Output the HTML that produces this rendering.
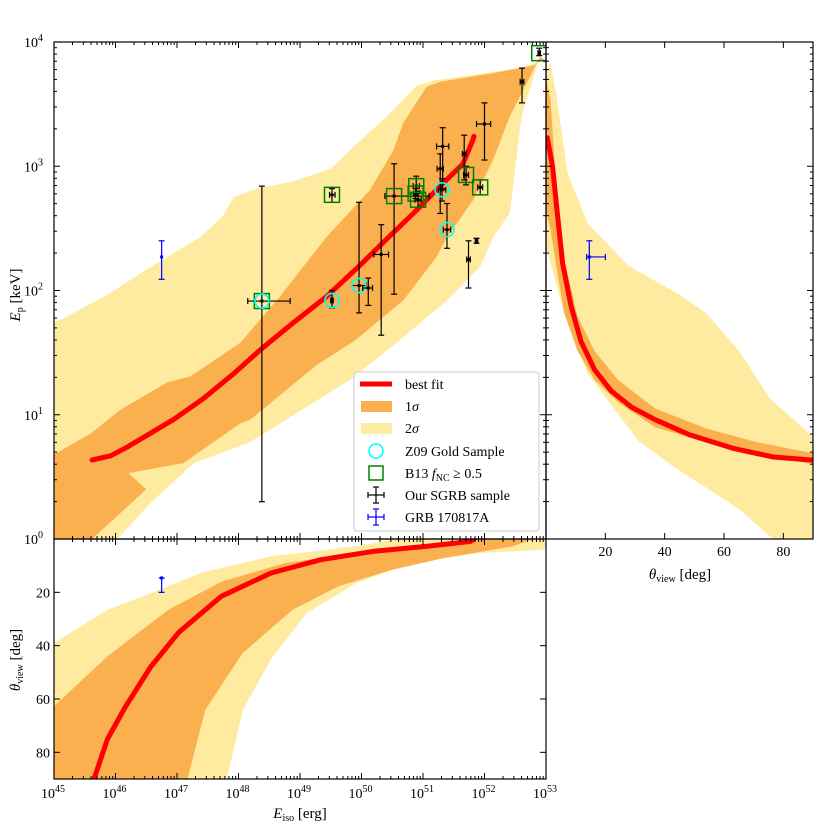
<!DOCTYPE html>
<html><head><meta charset="utf-8"><style>
html,body{margin:0;padding:0;background:#fff;}
svg{display:block;font-family:"Liberation Serif",serif;}
</style></head><body>
<svg id="c" width="830" height="830" viewBox="0 0 830 830" xmlns="http://www.w3.org/2000/svg">
<defs>
<clipPath id="cm"><rect x="54" y="42" width="492" height="497"/></clipPath>
<clipPath id="cr"><rect x="546" y="42" width="267" height="497"/></clipPath>
<clipPath id="cb"><rect x="54" y="539" width="492" height="240"/></clipPath>
</defs>
<g id="gm" clip-path="url(#cm)"></g>
<g id="gr" clip-path="url(#cr)"></g>
<g id="gb" clip-path="url(#cb)"></g>
<g id="ax"></g>
<g id="leg">
<rect x="354" y="372" width="185" height="159" rx="3" fill="#fff" fill-opacity="0.85" stroke="#ccc" stroke-width="1"/>
<line x1="360" y1="384" x2="392" y2="384" stroke="#f00" stroke-width="5"/>
<text x="405" y="389" font-size="14">best fit</text>
<rect x="361" y="401" width="31" height="11" fill="#fbb04f"/>
<text x="405" y="411" font-size="14">1<tspan font-style="italic">σ</tspan></text>
<rect x="361" y="423" width="31" height="11" fill="#feeba0"/>
<text x="405" y="433" font-size="14">2<tspan font-style="italic">σ</tspan></text>
<circle cx="376" cy="451" r="7" fill="none" stroke="#0ff" stroke-width="1.5"/>
<text x="405" y="456" font-size="14">Z09 Gold Sample</text>
<rect x="369" y="466" width="14" height="14" fill="none" stroke="#008000" stroke-width="1.5"/>
<text x="405" y="478" font-size="14">B13 <tspan font-style="italic">f</tspan><tspan font-size="10" dy="3">NC</tspan><tspan dy="-3"> ≥ 0.5</tspan></text>
<g stroke="#000" stroke-width="1.2"><line x1="368" y1="495" x2="384" y2="495"/><line x1="376" y1="487" x2="376" y2="503"/><line x1="368" y1="492" x2="368" y2="498"/><line x1="384" y1="492" x2="384" y2="498"/><line x1="373" y1="487" x2="379" y2="487"/><line x1="373" y1="503" x2="379" y2="503"/></g>
<text x="405" y="500" font-size="14">Our SGRB sample</text>
<g stroke="#00f" stroke-width="1.2"><line x1="368" y1="517" x2="384" y2="517"/><line x1="376" y1="509" x2="376" y2="525"/><line x1="368" y1="514" x2="368" y2="520"/><line x1="384" y1="514" x2="384" y2="520"/><line x1="373" y1="509" x2="379" y2="509"/><line x1="373" y1="525" x2="379" y2="525"/></g>
<text x="405" y="522" font-size="14">GRB 170817A</text>
</g>
<text x="20" y="295" font-size="15" transform="rotate(-90 20 295)" text-anchor="middle"><tspan font-style="italic">E</tspan><tspan font-size="10" dy="3">p</tspan><tspan dy="-3"> [keV]</tspan></text>
<text x="20" y="660" font-size="15" transform="rotate(-90 20 660)" text-anchor="middle"><tspan font-style="italic">θ</tspan><tspan font-size="10" dy="3">view</tspan><tspan dy="-3"> [deg]</tspan></text>
<text x="300" y="818" font-size="15" text-anchor="middle"><tspan font-style="italic">E</tspan><tspan font-size="10" dy="3">iso</tspan><tspan dy="-3"> [erg]</tspan></text>
<text x="680" y="579" font-size="15" text-anchor="middle"><tspan font-style="italic">θ</tspan><tspan font-size="10" dy="3">view</tspan><tspan dy="-3"> [deg]</tspan></text>
</svg>
<script>
// ---- data (log10 E_iso, log10 E_p, theta deg) ----
const fitLogE = [45.62,45.92,46.19,46.94,47.43,47.92,48.35,48.89,49.43,49.97,50.4,50.84,51.32,51.65,51.81,51.83];
const fitLogEp = [0.636,0.67,0.74,0.96,1.13,1.33,1.52,1.74,1.95,2.2,2.41,2.62,2.86,3.02,3.21,3.24];
const s1UpLogE = [45,45.6,46.08,46.84,47.22,48.03,48.67,49.43,50.14,50.52,50.68,51.06,51.28,52.14,52.79,52.97];
const s1UpLogEp = [0.68,0.85,1.04,1.26,1.31,1.58,1.95,2.43,2.81,3.13,3.35,3.64,3.68,3.75,3.81,3.86];
const s1LoLogE = [52.97,52.9,52.69,52.41,52.14,51.82,51.39,51.22,50.68,49.9,49.27,48.19,48.03,47.1,46.21,46.5,45.62,45];
const s1LoLogEp = [3.86,3.88,3.67,3.4,3.05,2.73,2.43,2.27,1.92,1.6,1.4,0.96,0.93,0.61,0.53,0.4,0,0];
const s2UpLogE = [45,45.32,45.92,46.41,46.94,47.38,47.75,47.92,48.3,48.9,49.5,49.92,50.3,50.63,50.9,51.17,52.57,52.97];
const s2UpLogEp = [1.74,1.82,1.98,2.14,2.3,2.43,2.6,2.75,2.82,2.88,2.98,3.18,3.35,3.51,3.65,3.69,3.79,3.86];
const s2LoLogE = [52.97,52.9,52.63,52.58,52.47,52.41,52.14,51.93,51.39,50.62,49.81,48.19,47.27,46.57,46.03,45];
const s2LoLogEp = [3.86,3.88,3.45,3.32,2.86,2.62,2.43,2.19,1.92,1.6,1.28,0.78,0.61,0.29,0,0];
// right panel: theta vs log Ep
const rFitTheta = [0.45,2.2,3.9,5.6,8.4,11.8,16.4,22,28.9,36.8,48.2,63,76.6,90];
const rFitLogEp = [3.23,3.0,2.6,2.22,1.88,1.59,1.36,1.19,1.06,0.96,0.84,0.73,0.66,0.635];
const r1UpTheta = [0,1.6,3.3,6.1,10.7,16.4,24.3,36.8,53.9,71,90];
const r1UpLogEp = [3.72,3.52,2.89,2.25,1.79,1.51,1.28,1.05,0.89,0.78,0.69];
const r1LoTheta = [0,1.6,3.3,6.1,10.7,16.4,24.3,36.8,53.9,71,90];
const r1LoLogEp = [2.66,2.48,2.22,1.82,1.51,1.28,1.1,0.9,0.78,0.69,0.6];
const r2UpTheta = [0,1.4,3.3,7.3,14.1,27.7,44.8,53.9,65.2,75.5,90];
const r2UpLogEp = [3.78,3.83,3.6,2.94,2.54,2.2,1.97,1.82,1.51,1.13,0.82];
const r2LoTheta = [0,1.6,6.1,14.1,31.1,42.5,65.2,76.6,90];
const r2LoLogEp = [2.34,2.22,1.82,1.33,0.79,0.59,0.24,0,0];
// bottom panel: log E vs theta
const bFitLogE = [45.65,45.87,46.16,46.57,47.03,47.72,48.53,49.34,50.2,51.07,51.77,51.83];
const bFitTheta = [90,75,63,48,35,21.5,12.75,7.75,4.6,2.75,0.9,0];
const b1LeftLogE = [45,45,45.87,46.86,47.72,48.76,49.92,50.79,51.5,51.8];
const b1LeftTheta = [90,62.75,44,26.5,16,9,5.25,3.4,1.5,0];
const b1RightLogE = [52.8,52.46,51.36,50.5,49.63,48.88,48.07,47.46,47.17];
const b1RightTheta = [0,2.75,7,11.5,17.75,26.5,42.75,64,90];
const b2LeftLogE = [45,45,45.87,46.45,47.38,48.53,49.92,50.5,50.6];
const b2LeftTheta = [90,39,26.5,21.5,12.75,6.5,2.75,0.25,0];
const b2RightLogE = [53,52.98,51.94,50.79,49.92,49.11,48.53,48.07,47.81];
const b2RightTheta = [0,4,5.25,9,16.5,27.75,45,64,90];
// SGRB points
const ptLogE = [48.38,49.52,49.52,49.96,50.11,50.32,50.53,50.89,50.88,50.92,51.32,51.28,51.31,51.39,51.67,51.7,51.93,52.0,52.61,52.89,51.74,51.87];
const ptLogEp = [1.915,2.77,1.92,2.04,2.02,2.29,2.76,2.84,2.78,2.73,3.16,2.98,2.81,2.49,3.10,2.93,2.83,3.34,3.68,3.91,2.25,2.40];
const ptXlo = [48.15,49.48,49.5,49.85,50.02,50.2,50.38,50.84,50.85,50.87,51.22,51.23,51.25,51.33,51.64,51.66,51.89,51.87,52.58,52.87,51.71,51.85];
const ptXhi = [48.84,49.57,49.54,50.08,50.18,50.44,51.1,50.94,50.91,50.97,51.42,51.33,51.37,51.45,51.7,51.74,51.97,52.1,52.64,52.91,51.77,51.89];
const ptYlo = [0.30,2.71,1.86,1.82,1.88,1.64,1.97,2.76,2.74,2.67,2.82,2.62,2.72,2.34,2.89,2.85,2.77,3.05,3.51,3.89,2.02,2.38];
const ptYhi = [2.84,2.82,2.0,2.71,2.10,2.53,3.02,2.92,2.82,2.80,3.31,3.10,2.9,2.70,3.25,3.0,2.89,3.51,3.79,3.95,2.40,2.42];
const ptType = ["sc","s","c","c","","","s","s","s","s","","","c","c","","s","s","","","s","",""];
// GRB 170817A
const grbLogE = [46.75], grbLogEp = [2.27], grbYlo = [2.09], grbYhi = [2.40];
const grbTheta = [14.6], grbThLo = [13.7], grbThHi = [20];

const NS="http://www.w3.org/2000/svg";
const X=l=>54+(l-45)*61.5, Y=l=>539-l*124.25, TX=t=>546+t*267/90, TB=t=>539+t*240/90;
function mk(tag,attrs,parent){const e=document.createElementNS(NS,tag);for(const k in attrs)e.setAttribute(k,attrs[k]);parent.appendChild(e);return e;}
function poly(xs,ys,fx,fy){return xs.map((v,i)=>fx(v).toFixed(1)+","+fy(ys[i]).toFixed(1)).join(" ");}
const gm=document.getElementById('gm'),gr=document.getElementById('gr'),gb=document.getElementById('gb'),ax=document.getElementById('ax');
const YEL="#feeba0",ORA="#fbb04f";
let p=mk('polygon',{points:poly(s2UpLogE.concat(s2LoLogE),s2UpLogEp.concat(s2LoLogEp),X,Y),fill:YEL},gm);


p=mk('polygon',{points:poly(s1UpLogE.concat(s1LoLogE),s1UpLogEp.concat(s1LoLogEp),X,Y),fill:ORA},gm);


p=mk('polyline',{points:poly(fitLogE,fitLogEp,X,Y),fill:"none",stroke:"#f00","stroke-width":5,"stroke-linejoin":"round","stroke-linecap":"round"},gm);


p=mk('polygon',{points:poly(r2UpTheta.concat(r2LoTheta.slice().reverse()),r2UpLogEp.concat(r2LoLogEp.slice().reverse()),TX,Y),fill:YEL},gr);


p=mk('polygon',{points:poly(r1UpTheta.concat(r1LoTheta.slice().reverse()),r1UpLogEp.concat(r1LoLogEp.slice().reverse()),TX,Y),fill:ORA},gr);


p=mk('polyline',{points:poly(rFitTheta,rFitLogEp,TX,Y),fill:"none",stroke:"#f00","stroke-width":5,"stroke-linejoin":"round","stroke-linecap":"round"},gr);


p=mk('polygon',{points:poly(b2LeftLogE.concat(b2RightLogE),b2LeftTheta.concat(b2RightTheta),X,TB),fill:YEL},gb);


p=mk('polygon',{points:poly(b1LeftLogE.concat(b1RightLogE),b1LeftTheta.concat(b1RightTheta),X,TB),fill:ORA},gb);


p=mk('polyline',{points:poly(bFitLogE,bFitTheta,X,TB),fill:"none",stroke:"#f00","stroke-width":5,"stroke-linejoin":"round","stroke-linecap":"round"},gb);


function ebar(parent,cx,cy,x1,x2,y1,y2,col){
  const g=mk('g',{stroke:col,"stroke-width":1.2,fill:"none"},parent);
  if(x2-x1>1){mk('line',{x1:x1,y1:cy,x2:x2,y2:cy},g);mk('line',{x1:x1,y1:cy-3,x2:x1,y2:cy+3},g);mk('line',{x1:x2,y1:cy-3,x2:x2,y2:cy+3},g);}
  mk('line',{x1:cx,y1:y1,x2:cx,y2:y2},g);mk('line',{x1:cx-3,y1:y1,x2:cx+3,y2:y1},g);mk('line',{x1:cx-3,y1:y2,x2:cx+3,y2:y2},g);
  mk('rect',{x:cx-1.5,y:cy-1.5,width:3,height:3,fill:col,stroke:"none"},g);
  return g;
}
const gp=mk('g',{},gm);
for(let i=0;i<ptLogE.length;i++){
  const cx=X(ptLogE[i]),cy=Y(ptLogEp[i]);
  const g=ebar(gp,cx,cy,X(ptXlo[i]),X(ptXhi[i]),Y(ptYhi[i]),Y(ptYlo[i]),"#000");
  
  
  const t=ptType[i];
  if(t.indexOf('s')>=0){const s=mk('rect',{x:cx-7.5,y:cy-7.5,width:15,height:15,fill:"none",stroke:"#008000","stroke-width":1.5},gp);
    
    }
  if(t.indexOf('c')>=0){const c=mk('circle',{cx:cx,cy:cy,r:7,fill:"none",stroke:"#0ff","stroke-width":1.6},gp);
    
    }
}
let bg=ebar(gm,X(grbLogE[0]),Y(grbLogEp[0]),0,0,Y(grbYhi[0]),Y(grbYlo[0]),"#00f");


bg=ebar(gr,TX(grbTheta[0]),Y(grbLogEp[0]),TX(grbThLo[0]),TX(grbThHi[0]),Y(grbYhi[0]),Y(grbYlo[0]),"#00f");


bg=ebar(gb,X(grbLogE[0]),TB(grbTheta[0]),0,0,TB(grbTheta[0]),TB(grbThHi[0]),"#00f");


[[54,42,492,497],[546,42,267,497],[54,539,492,240]].forEach(r=>{const f=mk('rect',{x:r[0],y:r[1],width:r[2],height:r[3],fill:"none",stroke:"#000","stroke-width":1.2},ax);
  
  });
function tl(x1,y1,x2,y2){mk('line',{x1:x1,y1:y1,x2:x2,y2:y2,stroke:"#000","stroke-width":1},ax);}
for(let d=45;d<=53;d++){for(let k=1;k<=9;k++){const l=d+Math.log10(k);if(l>53.001)break;const x=X(l),L=k==1?6:3;
  tl(x,42,x,42+L);tl(x,539,x,539-L);tl(x,539,x,539+L);tl(x,779,x,779-L);}}
for(let d=0;d<=4;d++){for(let k=1;k<=9;k++){const l=d+Math.log10(k);if(l>4.001)break;const y=Y(l),L=k==1?6:3;
  tl(54,y,54+L,y);tl(546,y,546-L,y);tl(546,y,546+L,y);tl(813,y,813-L,y);}}
[20,40,60,80].forEach(t=>{const x=TX(t);tl(x,42,x,48);tl(x,539,x,533);const y=TB(t);tl(54,y,60,y);tl(546,y,540,y);
  const a=mk('text',{x:x,y:556,"font-size":14,"text-anchor":"middle"},ax);a.textContent=t;
  
  
  const b=mk('text',{x:50,y:y+5,"font-size":14,"text-anchor":"end"},ax);b.textContent=t;
  
  });
for(let d=0;d<=4;d++){const t=mk('text',{x:24,y:Y(d)+5,"font-size":14},ax);t.innerHTML='10<tspan font-size="10" dy="-6">'+d+'</tspan>';
  
  }
for(let d=45;d<=53;d++){const t=mk('text',{x:X(d)-13,y:798,"font-size":14},ax);t.innerHTML='10<tspan font-size="10" dy="-6">'+d+'</tspan>';
  
  }
</script>
</body></html>
